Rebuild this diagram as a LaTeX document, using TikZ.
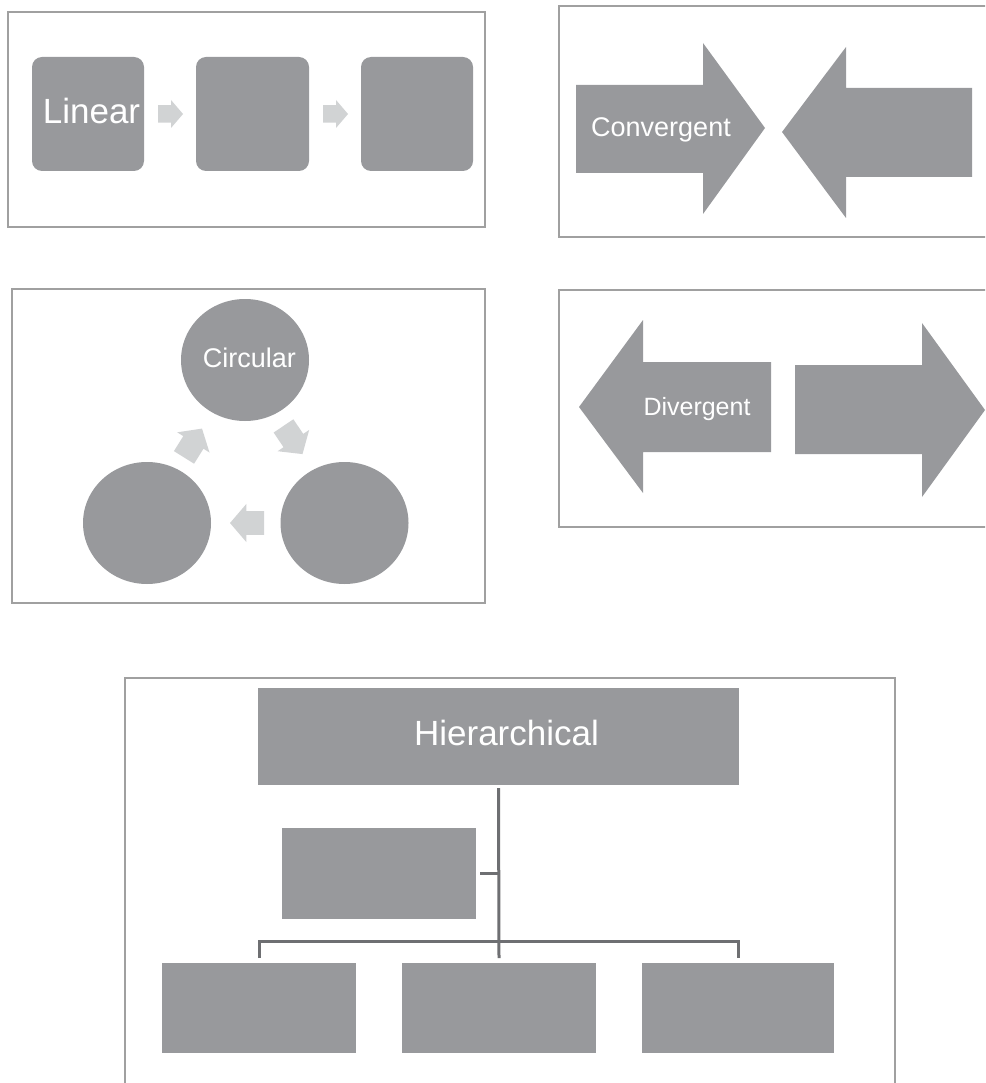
\documentclass[tikz,border=0pt]{standalone}
\usepackage{fontspec}
\setmainfont{Liberation Sans}
\usetikzlibrary{shapes.geometric}
\definecolor{boxgray}{RGB}{152,153,156}
\definecolor{lightgray2}{RGB}{209,211,212}
\definecolor{linegray}{RGB}{110,111,114}
\definecolor{framegray}{RGB}{160,160,160}
\tikzset{
  frame/.style={draw=framegray, line width=1.8pt},
  rbox/.style={fill=boxgray, draw=none, rounded corners=10pt, inner sep=0pt, outer sep=0pt},
  sbox/.style={fill=boxgray, draw=none, inner sep=0pt, outer sep=0pt},
  ebox/.style={ellipse, fill=boxgray, draw=none, inner sep=0pt, outer sep=0pt, minimum width=128pt, minimum height=122pt},
  bigarrow/.style={fill=boxgray, draw=none},
  conn/.style={draw=linegray, line width=3pt},
  label/.style={text=white, anchor=base, inner sep=0pt},
  flow/.pic={\fill[lightgray2] (-0.5,-0.35) -- (0.02,-0.35) -- (0.02,-0.56) -- (0.5,0) -- (0.02,0.56) -- (0.02,0.35) -- (-0.5,0.35) -- cycle;}
}
\begin{document}
\begin{tikzpicture}[x=1pt,y=-1pt]
\useasboundingbox (0,0) rectangle (985,1083);
\clip (0,0) rectangle (985,1083);

% ---------- Linear ----------
\draw[frame] (8,12) rectangle (485,227);
\node[rbox, minimum width=112pt, minimum height=114pt] (l1) at (88,114) {};
\node[rbox, minimum width=113pt, minimum height=114pt] (l2) at (252.5,114) {};
\node[rbox, minimum width=112pt, minimum height=114pt] (l3) at (417,114) {};
\node[label, font=\fontsize{35}{35}\selectfont] (tlin) at (91.5,124) {Linear};
\pic[scale=25] at (170.5,114) {flow};
\pic[scale=25] at (335.5,114) {flow};

% ---------- Convergent ----------
\draw[frame] (995,6) -- (559,6) -- (559,237) -- (995,237);
\fill[bigarrow] (576,85) -- (703,85) -- (703,43) -- (765,128) -- (703,214) -- (703,173) -- (576,173) -- cycle;
\fill[bigarrow] (972,88) -- (846,88) -- (846,47) -- (782,132) -- (846,218) -- (846,177) -- (972,177) -- cycle;
\node[label, font=\fontsize{27}{27}\selectfont] (tconv) at (661,137) {Convergent};

% ---------- Circular ----------
\draw[frame] (12,289) rectangle (485,603);
\node[ebox] (c1) at (245,360) {};
\node[ebox] (c2) at (147,523) {};
\node[ebox] (c3) at (344.5,523) {};
\node[label, font=\fontsize{27}{27}\selectfont] (tcirc) at (249.5,367) {Circular};
\pic[scale=34, rotate=58] at (193,443) {flow};
\pic[scale=34, rotate=-56] at (293,440) {flow};
\pic[scale=34, rotate=180] at (247,523) {flow};

% ---------- Divergent ----------
\draw[frame] (995,290) -- (559,290) -- (559,527) -- (995,527);
\fill[bigarrow] (771,362) -- (643,362) -- (643,320) -- (579,407) -- (643,493) -- (643,452) -- (771,452) -- cycle;
\fill[bigarrow] (795,365) -- (922,365) -- (922,323) -- (985,410) -- (922,497) -- (922,454) -- (795,454) -- cycle;
\node[label, font=\fontsize{25}{25}\selectfont] (tdiv) at (697,415) {Divergent};

% ---------- Hierarchical ----------
\draw[frame] (125,1095) -- (125,678) -- (895,678) -- (895,1095);
\node[sbox, minimum width=481pt, minimum height=97pt] (h0) at (498.5,736.5) {};
\node[label, font=\fontsize{35}{35}\selectfont] (thier) at (506.5,745) {Hierarchical};
\node[sbox, minimum width=194pt, minimum height=91pt] (hm) at (379,873.5) {};
\node[sbox, minimum width=194pt, minimum height=90pt] (b1) at (259,1008) {};
\node[sbox, minimum width=194pt, minimum height=90pt] (b2) at (499,1008) {};
\node[sbox, minimum width=192pt, minimum height=90pt] (b3) at (738,1008) {};
\draw[conn] ([yshift=-3pt]h0.south) -- ([yshift=5pt]b2.north);
\draw[conn] ([yshift=5pt]b1.north) |- ([yshift=22pt]b2.north) -| ([yshift=5pt]b3.north);
\draw[conn] ([xshift=4pt]hm.east) -- (hm.east -| h0.south);
\end{tikzpicture}
\end{document}
